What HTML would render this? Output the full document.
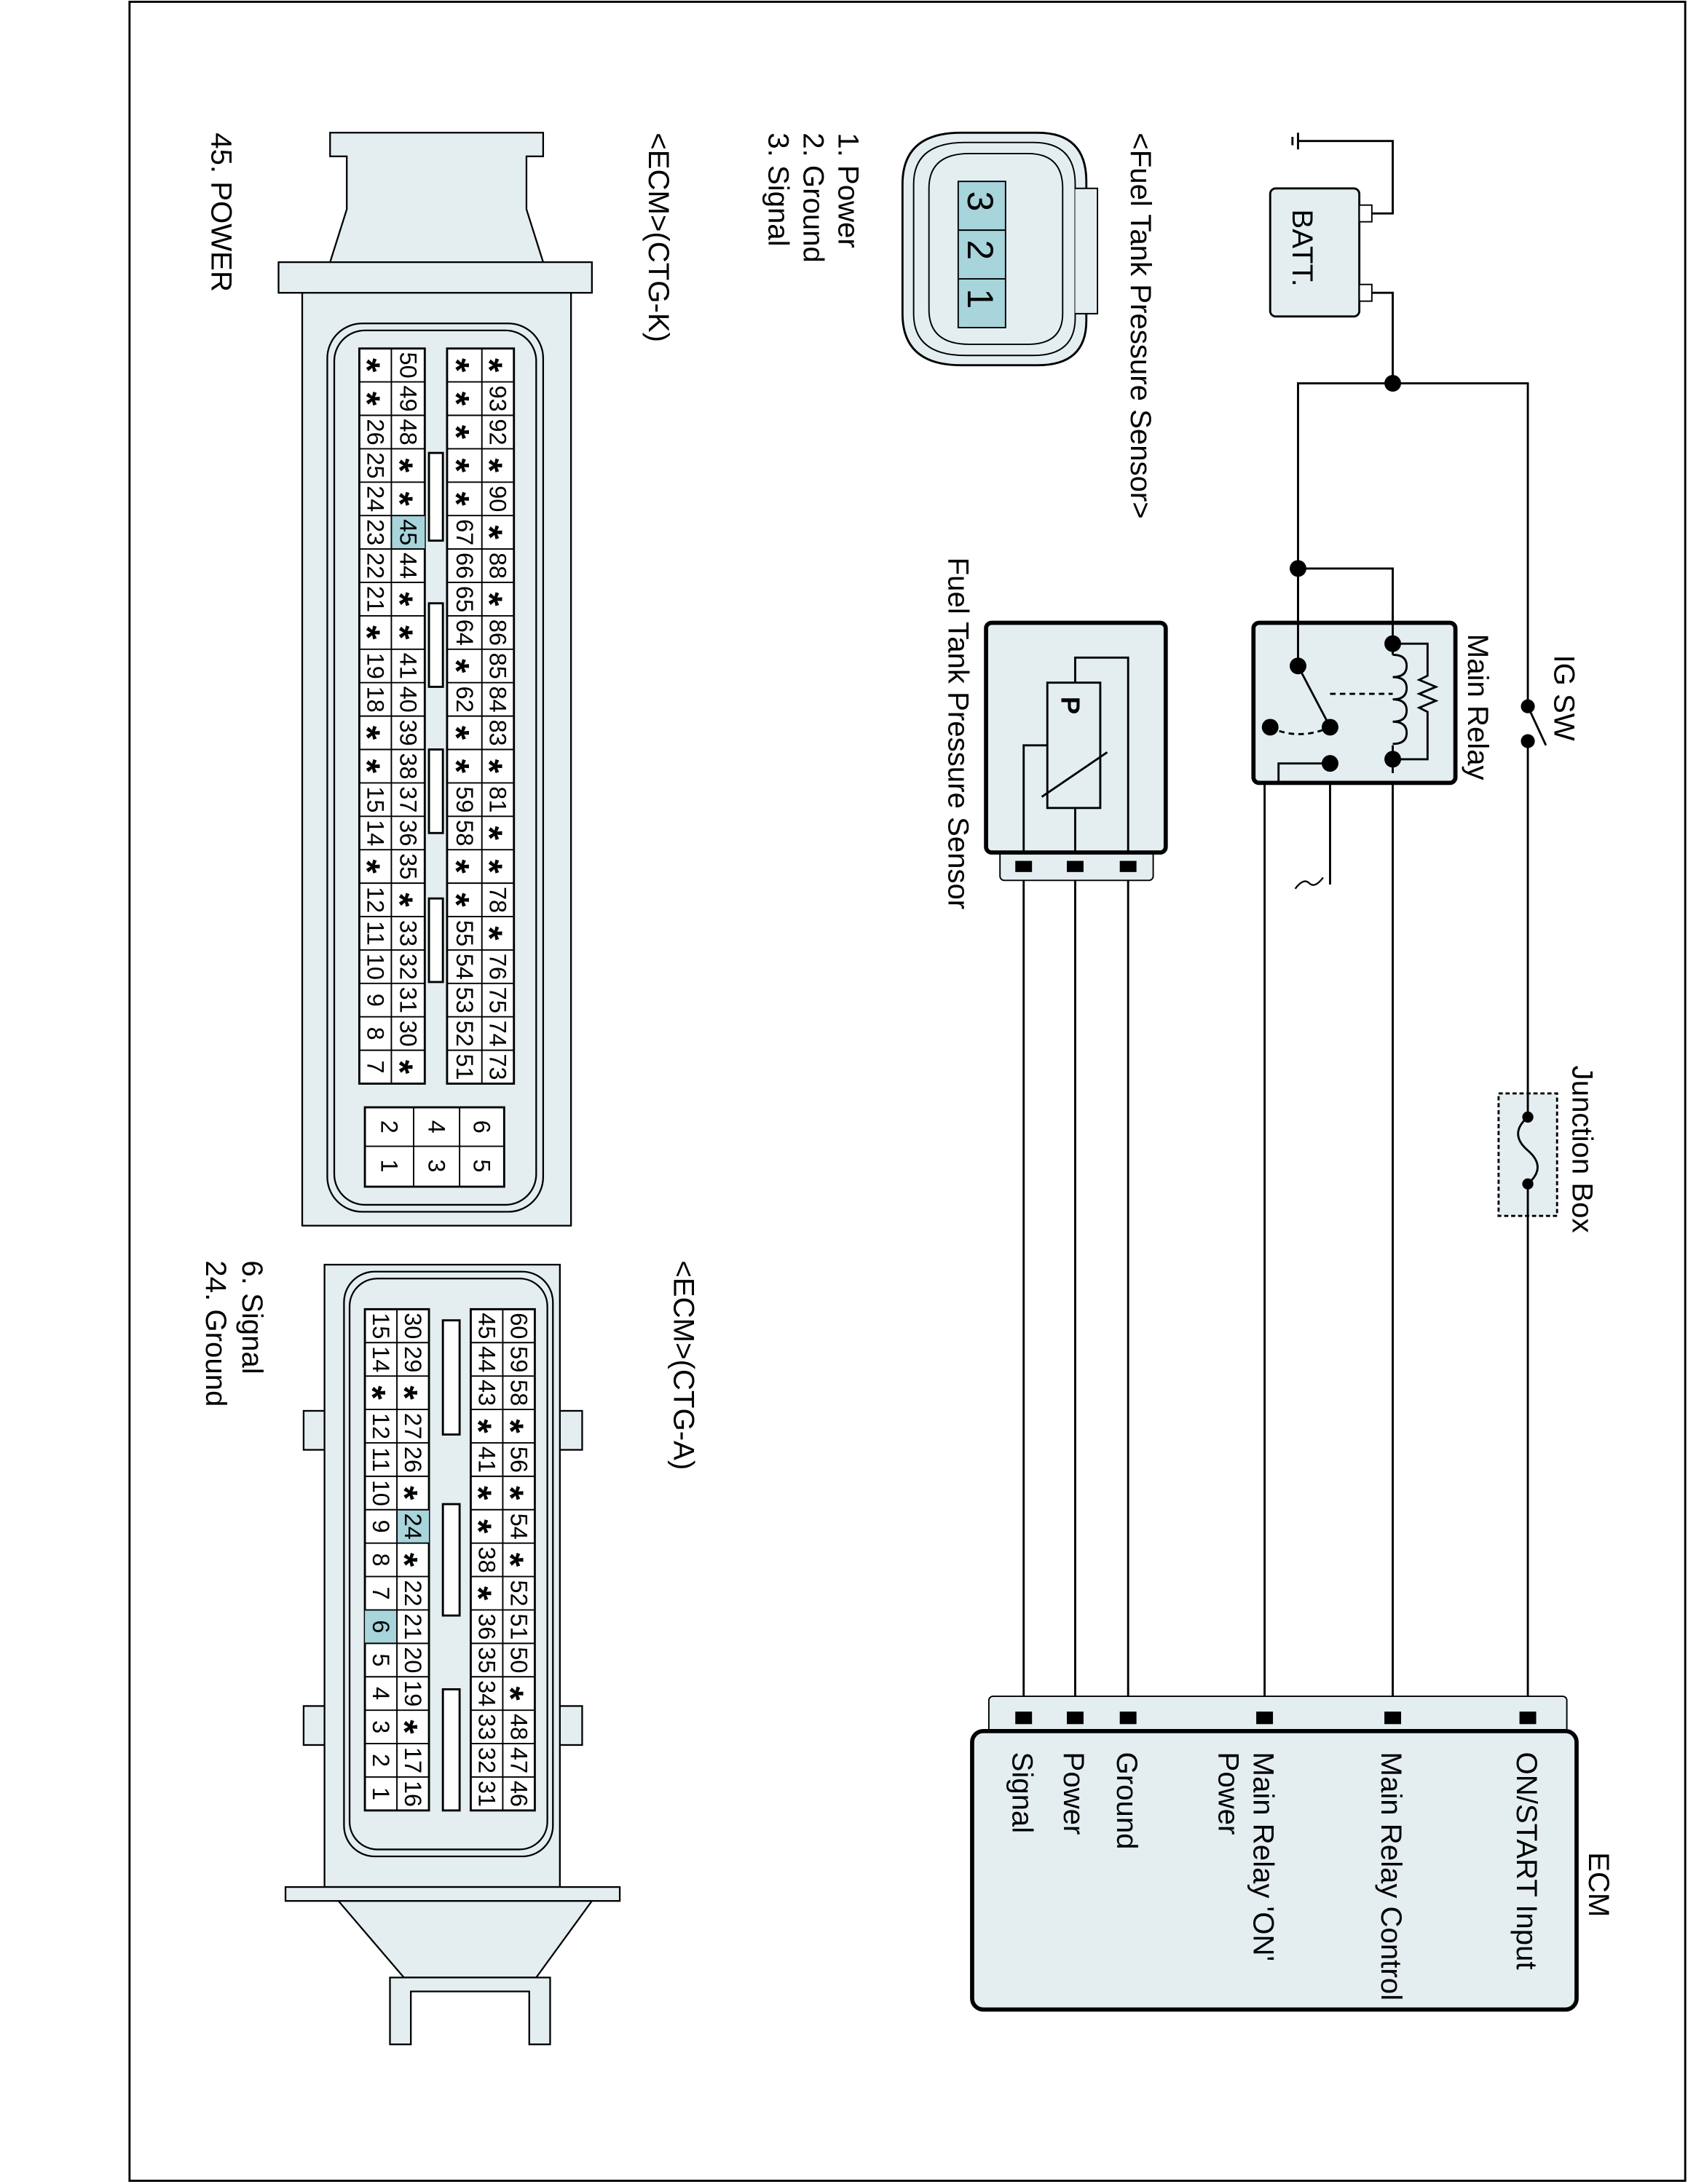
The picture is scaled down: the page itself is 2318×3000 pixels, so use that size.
<!DOCTYPE html>
<html><head><meta charset="utf-8"><style>html,body{margin:0;padding:0;background:#fff}svg{display:block}</style></head>
<body>
<svg xmlns="http://www.w3.org/2000/svg" width="2318" height="3000" viewBox="0 0 1212 1568" font-family="Liberation Sans, sans-serif">
<rect x="93" y="1" width="1117" height="1565" fill="none" stroke="#000" stroke-width="1.5"/>

<!-- Battery -->
<rect x="912" y="135" width="64" height="92" rx="4" fill="#e4eef0" stroke="#000" stroke-width="1.5"/>
<rect x="976" y="147" width="9" height="12" fill="#fff" stroke="#000"/>
<rect x="976" y="204" width="9" height="12" fill="#fff" stroke="#000"/>
<g fill="none" stroke="#000" stroke-width="1.5">
<path d="M985 153 H1000 V101 H932"/>
<path d="M932 95 V107 M928 98 V104"/>
<path d="M985 210 H1000 V275"/>
<path d="M932 480 V275 H1097 V1233"/>
<path d="M932 408 H1000 V1233"/>
<path d="M955 548 V635"/>
<path d="M955 560 H908 V1233"/>
<path d="M735 622 V1233 M772 622 V1233 M810 622 V1233"/>
</g>
<circle cx="1000" cy="275" r="6"/>
<circle cx="932" cy="408" r="6"/>
<path d="M950 630 q-6 8 -10 4 q-4 -4 -10 4" fill="none" stroke="#000" stroke-width="1.2"/>

<!-- IG SW -->
<rect x="1090" y="505" width="14" height="30" fill="#fff"/>
<circle cx="1097" cy="507" r="5"/>
<circle cx="1097" cy="532" r="5"/>
<path d="M1097 507 L1110 535" stroke="#000" stroke-width="1.5"/>

<!-- Junction box -->
<rect x="1076" y="785" width="42" height="88" fill="#e4eef0" stroke="#000" stroke-width="1.5" stroke-dasharray="3 2"/>
<path d="M1097 785 V800 M1097 850 V873" stroke="#000" stroke-width="1.5"/>
<circle cx="1097" cy="802" r="4"/><circle cx="1097" cy="850" r="4"/>
<path d="M1097 802 q-14 12 0 24 q14 12 0 24" fill="none" stroke="#000" stroke-width="1.5"/>

<!-- Main relay -->
<rect x="900" y="447" width="145" height="115" rx="4" fill="#e4eef0" stroke="#000" stroke-width="3"/>
<g fill="none" stroke="#000" stroke-width="1.5">
<path d="M932 408 V478"/>
<path d="M1000 440 V470 M1000 535 V555"/>
<path d="M1000 470 q10 0 10 8 q0 8 -10 8 q10 0 10 8 q0 8 -10 8 q10 0 10 8 q0 8 -10 8 q10 0 10 8 q0 8 -10 8"/>
<path d="M1000 462 H1025 V485 l-6 3 12 5 -12 5 12 5 -12 5 6 3 V545 H1000"/>
<path d="M932 478 L953 518"/>
<path d="M955 498 H1000" stroke-dasharray="4 3"/>
<path d="M912 522 Q932 532 955 522" stroke-dasharray="4 3"/>
<path d="M955 548 H918 V562"/>
</g>
<circle cx="1000" cy="462" r="6"/><circle cx="1000" cy="545" r="6"/>
<circle cx="932" cy="478" r="6"/><circle cx="955" cy="522" r="6"/>
<circle cx="912" cy="522" r="6"/><circle cx="955" cy="548" r="6"/>

<!-- Sensor -->
<rect x="718" y="605" width="110" height="27" rx="3" fill="#e4eef0" stroke="#000"/>
<rect x="708" y="447" width="129" height="165" rx="4" fill="#e4eef0" stroke="#000" stroke-width="3"/>
<g fill="none" stroke="#000" stroke-width="1.5">
<path d="M810 612 V472 H772 V490"/>
<rect x="752" y="490" width="38" height="90"/>
<path d="M772 580 V612"/>
<path d="M735 612 V535 H752"/>
<path d="M748 572 L795 540"/>
</g>
<text transform="translate(762,500) rotate(90)" font-size="19" font-weight="bold">P</text>
<rect x="729" y="618" width="12" height="8"/><rect x="766" y="618" width="12" height="8"/><rect x="804" y="618" width="12" height="8"/>

<!-- ECM box -->
<rect x="710" y="1218" width="415" height="30" rx="3" fill="#e4eef0" stroke="#000"/>
<rect x="698" y="1243" width="434" height="200" rx="8" fill="#e4eef0" stroke="#000" stroke-width="3"/>
<g>
<rect x="729" y="1229" width="12" height="9"/><rect x="766" y="1229" width="12" height="9"/><rect x="804" y="1229" width="12" height="9"/>
<rect x="902" y="1229" width="12" height="9"/><rect x="994" y="1229" width="12" height="9"/><rect x="1091" y="1229" width="12" height="9"/>
</g>

<!-- Labels -->
<g font-size="21" fill="#000">
<text transform="translate(812,95) rotate(90)">&lt;Fuel Tank Pressure Sensor&gt;</text>
<text transform="translate(602,95) rotate(90)">1. Power</text>
<text transform="translate(577,95) rotate(90)">2. Ground</text>
<text transform="translate(552,95) rotate(90)">3. Signal</text>
<text transform="translate(466,95) rotate(90)">&lt;ECM&gt;(CTG-K)</text>
<text transform="translate(152,95) rotate(90)">45. POWER</text>
<text transform="translate(484,905) rotate(90)">&lt;ECM&gt;(CTG-A)</text>
<text transform="translate(174,905) rotate(90)">6. Signal</text>
<text transform="translate(148,905) rotate(90)">24. Ground</text>
<text transform="translate(681,400) rotate(90)">Fuel Tank Pressure Sensor</text>
<text transform="translate(1054,455) rotate(90)">Main Relay</text>
<text transform="translate(1116,470) rotate(90)">IG SW</text>
<text transform="translate(1129,765) rotate(90)">Junction Box</text>
<text transform="translate(928,150) rotate(90)">BATT.</text>
<text transform="translate(1141,1330) rotate(90)">ECM</text>
<text transform="translate(1089,1258) rotate(90)">ON/START Input</text>
<text transform="translate(992,1258) rotate(90)">Main Relay Control</text>
<text transform="translate(900,1258) rotate(90)">Main Relay 'ON'</text>
<text transform="translate(875,1258) rotate(90)">Power</text>
<text transform="translate(802,1258) rotate(90)">Ground</text>
<text transform="translate(764,1258) rotate(90)">Power</text>
<text transform="translate(727,1258) rotate(90)">Signal</text>
</g>

<!-- Sensor connector icon -->
<path d="M690 95 H745 Q780 95 780 130 V230 Q780 262 745 262 H690 Q648 262 648 225 V132 Q648 95 690 95 Z" fill="#e4eef0" stroke="#000" stroke-width="1.5"/>
<path d="M693 102 H742 Q772 102 772 132 V228 Q772 255 742 255 H693 Q656 255 656 225 V132 Q656 102 693 102 Z" fill="none" stroke="#000"/>
<path d="M696 110 H738 Q763 110 763 135 V225 Q763 247 738 247 H696 Q667 247 667 222 V135 Q667 110 696 110 Z" fill="none" stroke="#000"/>
<path d="M772 135 H788 V225 H772" fill="#e4eef0" stroke="#000"/>
<rect x="688" y="130" width="34" height="105" fill="#a8d4dc" stroke="#000"/>
<path d="M688 165 H722 M688 200 H722" stroke="#000"/>
<g font-size="26"><text transform="translate(695,137) rotate(90)">3</text><text transform="translate(695,172) rotate(90)">2</text><text transform="translate(695,207) rotate(90)">1</text></g>

<!-- CTG-K housing -->
<g fill="#e4eef0" stroke="#000" stroke-width="1.2">
<path d="M237 95 H390 V112 H378 V150 L390 188 H237 L249 150 V112 H237 Z"/>
<rect x="200" y="188" width="225" height="22"/>
<rect x="217" y="210" width="193" height="670"/>
<rect x="235" y="232" width="155" height="638" rx="25"/>
<rect x="240" y="237" width="145" height="628" rx="22" fill="none"/>
</g>
<g fill="#fff" stroke="#000" stroke-width="1.5">
<rect x="258" y="250" width="47" height="528"/>
<rect x="321" y="250" width="48" height="528"/>
<rect x="308" y="325" width="10" height="63"/><rect x="308" y="433" width="10" height="60"/>
<rect x="308" y="538" width="10" height="60"/><rect x="308" y="645" width="10" height="60"/>
<rect x="262" y="795" width="100" height="57"/>
</g>
<rect x="281" y="370" width="24" height="24" fill="#a8d4dc"/>
<g stroke="#000" stroke-width="1">
<path d="M281 250 V778 M346 250 V778 M297 795 V852 M330 795 V852 M262 823 H362"/>
<path d="M258 274H305M258 298H305M258 322H305M258 346H305M258 370H305M258 394H305M258 418H305M258 442H305M258 466H305M258 490H305M258 514H305M258 538H305M258 562H305M258 586H305M258 610H305M258 634H305M258 658H305M258 682H305M258 706H305M258 730H305M258 754H305"/>
<path d="M321 274H369M321 298H369M321 322H369M321 346H369M321 370H369M321 394H369M321 418H369M321 442H369M321 466H369M321 490H369M321 514H369M321 538H369M321 562H369M321 586H369M321 610H369M321 634H369M321 658H369M321 682H369M321 706H369M321 730H369M321 754H369"/>
</g>
<style>.s{font-size:26px;font-weight:bold}</style>
<g font-size="17" text-anchor="middle" dominant-baseline="central">
<g transform="translate(269.5,250) rotate(90)"><text x="12" class="s" dy="6">*</text><text x="36" class="s" dy="6">*</text><text x="60">26</text><text x="84">25</text><text x="108">24</text><text x="132">23</text><text x="156">22</text><text x="180">21</text><text x="204" class="s" dy="6">*</text><text x="228">19</text><text x="252">18</text><text x="276" class="s" dy="6">*</text><text x="300" class="s" dy="6">*</text><text x="324">15</text><text x="348">14</text><text x="372" class="s" dy="6">*</text><text x="396">12</text><text x="420">11</text><text x="444">10</text><text x="468">9</text><text x="492">8</text><text x="516">7</text></g>
<g transform="translate(293,250) rotate(90)"><text x="12">50</text><text x="36">49</text><text x="60">48</text><text x="84" class="s" dy="6">*</text><text x="108" class="s" dy="6">*</text><text x="132">45</text><text x="156">44</text><text x="180" class="s" dy="6">*</text><text x="204" class="s" dy="6">*</text><text x="228">41</text><text x="252">40</text><text x="276">39</text><text x="300">38</text><text x="324">37</text><text x="348">36</text><text x="372">35</text><text x="396" class="s" dy="6">*</text><text x="420">33</text><text x="444">32</text><text x="468">31</text><text x="492">30</text><text x="516" class="s" dy="6">*</text></g>
<g transform="translate(333.5,250) rotate(90)"><text x="12" class="s" dy="6">*</text><text x="36" class="s" dy="6">*</text><text x="60" class="s" dy="6">*</text><text x="84" class="s" dy="6">*</text><text x="108" class="s" dy="6">*</text><text x="132">67</text><text x="156">66</text><text x="180">65</text><text x="204">64</text><text x="228" class="s" dy="6">*</text><text x="252">62</text><text x="276" class="s" dy="6">*</text><text x="300" class="s" dy="6">*</text><text x="324">59</text><text x="348">58</text><text x="372" class="s" dy="6">*</text><text x="396" class="s" dy="6">*</text><text x="420">55</text><text x="444">54</text><text x="468">53</text><text x="492">52</text><text x="516">51</text></g>
<g transform="translate(357.5,250) rotate(90)"><text x="12" class="s" dy="6">*</text><text x="36">93</text><text x="60">92</text><text x="84" class="s" dy="6">*</text><text x="108">90</text><text x="132" class="s" dy="6">*</text><text x="156">88</text><text x="180" class="s" dy="6">*</text><text x="204">86</text><text x="228">85</text><text x="252">84</text><text x="276">83</text><text x="300" class="s" dy="6">*</text><text x="324">81</text><text x="348" class="s" dy="6">*</text><text x="372" class="s" dy="6">*</text><text x="396">78</text><text x="420" class="s" dy="6">*</text><text x="444">76</text><text x="468">75</text><text x="492">74</text><text x="516">73</text></g>
<g transform="translate(279.5,795) rotate(90)"><text x="14">2</text><text x="42">1</text></g>
<g transform="translate(313.5,795) rotate(90)"><text x="14">4</text><text x="42">3</text></g>
<g transform="translate(346,795) rotate(90)"><text x="14">6</text><text x="42">5</text></g>
</g>

<!-- CTG-A housing -->
<g fill="#e4eef0" stroke="#000" stroke-width="1.2">
<rect x="218" y="1013" width="16" height="28"/><rect x="218" y="1225" width="16" height="28"/>
<rect x="402" y="1013" width="16" height="28"/><rect x="402" y="1225" width="16" height="28"/>
<rect x="233" y="908" width="169" height="447"/>
<rect x="247" y="913" width="150" height="420" rx="22"/>
<rect x="251" y="918" width="142" height="410" rx="20" fill="none"/>
<rect x="205" y="1355" width="240" height="10"/>
<path d="M243 1365 H425 L385 1420 H290 Z"/>
<path d="M280 1420 H395 V1468 H380 V1430 H295 V1468 H280 Z"/>
</g>
<g fill="#fff" stroke="#000" stroke-width="1.5">
<rect x="262" y="940" width="46" height="360"/>
<rect x="338" y="940" width="46" height="360"/>
<rect x="318" y="948" width="12" height="82"/><rect x="318" y="1080" width="12" height="80"/><rect x="318" y="1213" width="12" height="87"/>
</g>
<rect x="262" y="1156" width="23" height="24" fill="#a8d4dc"/>
<rect x="285" y="1084" width="23" height="24" fill="#a8d4dc"/>
<g stroke="#000" stroke-width="1">
<path d="M285 940 V1300 M361 940 V1300"/>
<path d="M262 964H308M262 988H308M262 1012H308M262 1036H308M262 1060H308M262 1084H308M262 1108H308M262 1132H308M262 1156H308M262 1180H308M262 1204H308M262 1228H308M262 1252H308M262 1276H308"/>
<path d="M338 964H384M338 988H384M338 1012H384M338 1036H384M338 1060H384M338 1084H384M338 1108H384M338 1132H384M338 1156H384M338 1180H384M338 1204H384M338 1228H384M338 1252H384M338 1276H384"/>
</g>
<g font-size="17" text-anchor="middle" dominant-baseline="central">
<g transform="translate(273.5,940) rotate(90)"><text x="12">15</text><text x="36">14</text><text x="60" class="s" dy="6">*</text><text x="84">12</text><text x="108">11</text><text x="132">10</text><text x="156">9</text><text x="180">8</text><text x="204">7</text><text x="228">6</text><text x="252">5</text><text x="276">4</text><text x="300">3</text><text x="324">2</text><text x="348">1</text></g>
<g transform="translate(296.5,940) rotate(90)"><text x="12">30</text><text x="36">29</text><text x="60" class="s" dy="6">*</text><text x="84">27</text><text x="108">26</text><text x="132" class="s" dy="6">*</text><text x="156">24</text><text x="180" class="s" dy="6">*</text><text x="204">22</text><text x="228">21</text><text x="252">20</text><text x="276">19</text><text x="300" class="s" dy="6">*</text><text x="324">17</text><text x="348">16</text></g>
<g transform="translate(349.5,940) rotate(90)"><text x="12">45</text><text x="36">44</text><text x="60">43</text><text x="84" class="s" dy="6">*</text><text x="108">41</text><text x="132" class="s" dy="6">*</text><text x="156" class="s" dy="6">*</text><text x="180">38</text><text x="204" class="s" dy="6">*</text><text x="228">36</text><text x="252">35</text><text x="276">34</text><text x="300">33</text><text x="324">32</text><text x="348">31</text></g>
<g transform="translate(372.5,940) rotate(90)"><text x="12">60</text><text x="36">59</text><text x="60">58</text><text x="84" class="s" dy="6">*</text><text x="108">56</text><text x="132" class="s" dy="6">*</text><text x="156">54</text><text x="180" class="s" dy="6">*</text><text x="204">52</text><text x="228">51</text><text x="252">50</text><text x="276" class="s" dy="6">*</text><text x="300">48</text><text x="324">47</text><text x="348">46</text></g>
</g>
</svg>
</body></html>
